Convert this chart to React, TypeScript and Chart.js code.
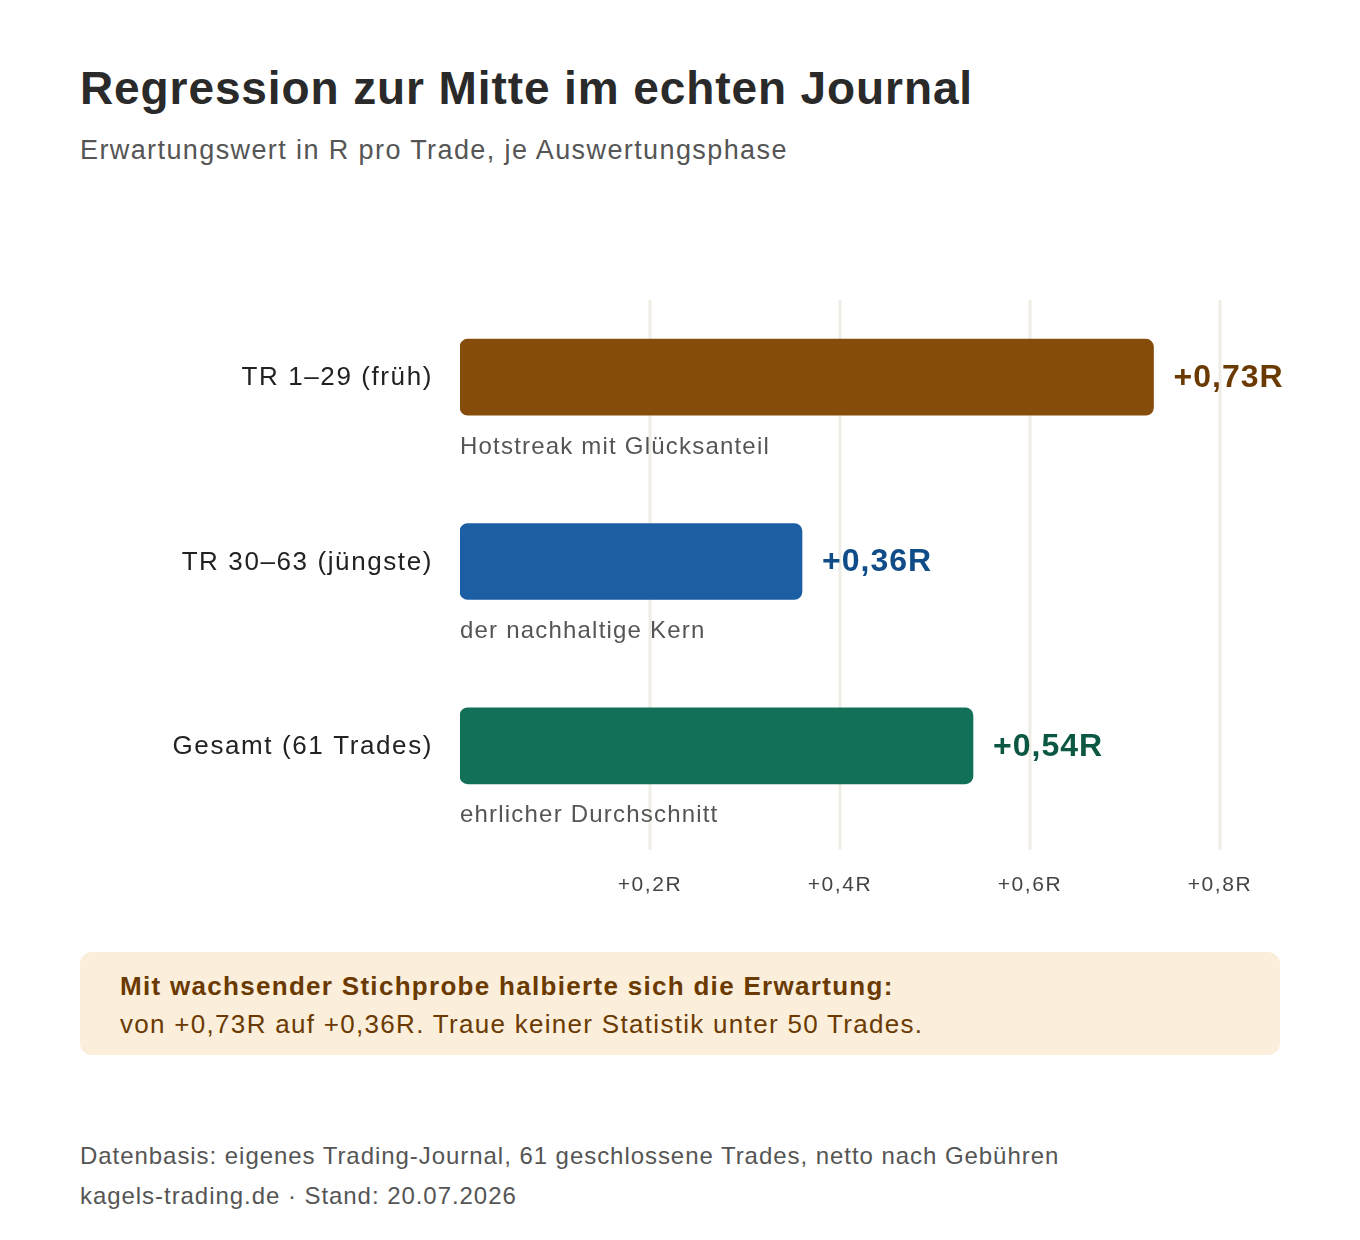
import React, { useEffect, useRef } from "react";
import { Chart, registerables } from "chart.js";
Chart.register(...registerables);

const categories = ["TR 1–29 (früh)", "TR 30–63 (jüngste)", "Gesamt (61 Trades)"];
const values = [0.73, 0.36, 0.54];
const valueLabels = ["+0,73R", "+0,36R", "+0,54R"];
const notes = ["Hotstreak mit Glücksanteil", "der nachhaltige Kern", "ehrlicher Durchschnitt"];
const barColors = ["#864C0C", "#1B5EA4", "#127058"];
const labelColors = ["#6A3A02", "#0F4C88", "#0B5743"];
const tickValues = [0.2, 0.4, 0.6, 0.8];
const tickLabels = ["+0,2R", "+0,4R", "+0,6R", "+0,8R"];

const FONT = "'Liberation Sans', Arial, Helvetica, sans-serif";
const CANVAS_TOP = 280;

export default function App() {
  const ref = useRef<HTMLCanvasElement>(null);
  useEffect(() => {
    const overlay = {
      id: "overlay",
      beforeDatasetsDraw(chart: any) {
        const { ctx } = chart;
        const x = chart.scales.x;
        ctx.save();
        ctx.strokeStyle = "#F0EDE5";
        ctx.lineWidth = 3;
        tickValues.forEach((v) => {
          const px = x.getPixelForValue(v);
          ctx.beginPath();
          ctx.moveTo(px, 300 - CANVAS_TOP);
          ctx.lineTo(px, 850 - CANVAS_TOP);
          ctx.stroke();
        });
        ctx.fillStyle = "#444";
        ctx.font = `21px ${FONT}`;
        ctx.letterSpacing = "1.6px";
        ctx.textAlign = "center";
        ctx.textBaseline = "middle";
        tickValues.forEach((v, i) => ctx.fillText(tickLabels[i], x.getPixelForValue(v), 885 - CANVAS_TOP));
        ctx.restore();
      },
      afterDatasetsDraw(chart: any) {
        const { ctx } = chart;
        const meta = chart.getDatasetMeta(0);
        ctx.save();
        meta.data.forEach((bar: any, i: number) => {
          ctx.textBaseline = "middle";
          ctx.textAlign = "left";
          ctx.font = `bold 32px ${FONT}`;
          ctx.letterSpacing = "1px";
          ctx.fillStyle = labelColors[i];
          ctx.fillText(valueLabels[i], bar.x + 20, bar.y + 1);
          ctx.font = `24px ${FONT}`;
          ctx.letterSpacing = "1.2px";
          ctx.fillStyle = "#555";
          ctx.fillText(notes[i], chart.chartArea.left, bar.y + 70);
          ctx.font = `26px ${FONT}`;
          ctx.letterSpacing = "1.6px";
          ctx.fillStyle = "#222";
          ctx.textAlign = "right";
          ctx.fillText(categories[i], 433, bar.y + 1);
        });
        ctx.restore();
      },
    };
    const chart = new Chart(ref.current!, {
      type: "bar",
      data: {
        labels: categories,
        datasets: [{
          data: values,
          backgroundColor: barColors,
          barThickness: 76,
          borderRadius: 8,
          borderSkipped: false,
        }],
      },
      options: {
        indexAxis: "y",
        animation: false,
        responsive: false,
        layout: { padding: { left: 460, right: 140, top: 5, bottom: 72 } },
        plugins: { legend: { display: false }, tooltip: { enabled: false } },
        scales: {
          x: { display: false, min: 0, max: 0.8 },
          y: { display: false },
        },
      },
      plugins: [overlay],
    });
    return () => chart.destroy();
  }, []);

  return (
    <div style={{ position: "absolute", left: 0, top: 0, width: 1360, height: 1240, background: "#fff", fontFamily: FONT }}>
      <div style={{ position: "absolute", left: 80, top: 60, fontSize: 46, fontWeight: "bold", color: "#2a2a2a", lineHeight: "56px", letterSpacing: "0.9px", whiteSpace: "nowrap" }}>
        Regression zur Mitte im echten Journal
      </div>
      <div style={{ position: "absolute", left: 80, top: 134, fontSize: 27, color: "#555", lineHeight: "32px", letterSpacing: "1.4px", whiteSpace: "nowrap" }}>
        Erwartungswert in R pro Trade, je Auswertungsphase
      </div>
      <canvas ref={ref} width={1360} height={630} style={{ position: "absolute", left: 0, top: CANVAS_TOP, width: 1360, height: 630 }} />
      <div style={{ position: "absolute", left: 80, top: 952, width: 1200, height: 103, background: "#FBEEDB", borderRadius: 12, color: "#6A3A02", boxSizing: "border-box", padding: "16px 40px", whiteSpace: "nowrap" }}>
        <div style={{ fontSize: 26, fontWeight: "bold", lineHeight: "36px", letterSpacing: "1.3px" }}>Mit wachsender Stichprobe halbierte sich die Erwartung:</div>
        <div style={{ fontSize: 26, lineHeight: "40px", letterSpacing: "1.3px" }}>von +0,73R auf +0,36R. Traue keiner Statistik unter 50 Trades.</div>
      </div>
      <div style={{ position: "absolute", left: 80, top: 1136, fontSize: 24, color: "#555", lineHeight: "40px", letterSpacing: "0.95px", whiteSpace: "nowrap" }}>
        <div>Datenbasis: eigenes Trading-Journal, 61 geschlossene Trades, netto nach Gebühren</div>
        <div>kagels-trading.de · Stand: 20.07.2026</div>
      </div>
    </div>
  );
}
